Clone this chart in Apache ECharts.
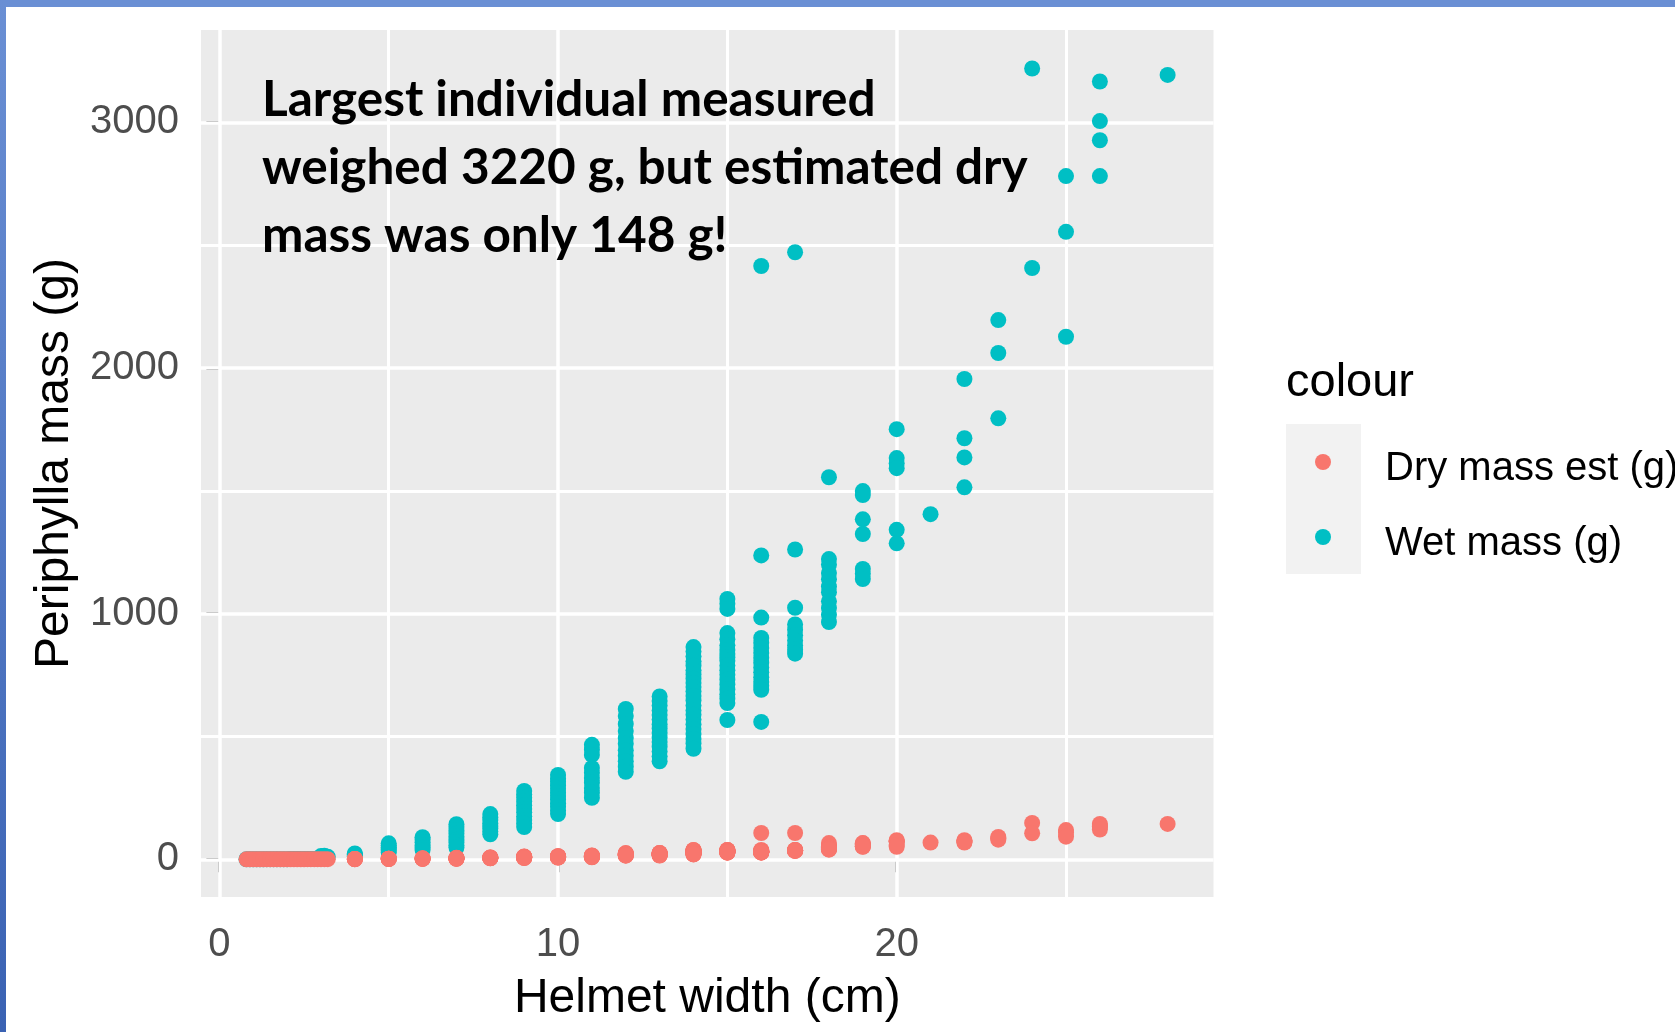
<!DOCTYPE html>
<html>
<head>
<meta charset="utf-8">
<script src="https://cdn.jsdelivr.net/npm/echarts@6/dist/echarts.min.js"></script>
<style>
  html, body { margin: 0; padding: 0; background: #fff; }
  #chart { width: 1675px; height: 1032px; }
</style>
</head>
<body>
<div id="chart"></div>
<script>
// small helmets, measured to 0.1 cm
const smallWidths = [0.8, 0.9, 1.0, 1.1, 1.2, 1.3, 1.4, 1.5, 1.6, 1.7, 1.8, 1.9, 2.0, 2.1, 2.2, 2.3, 2.4, 2.5, 2.6, 2.7, 2.8, 2.9, 3.0, 3.1, 3.2];
const smallWet = [0.1, 0.1, 0.1, 0.2, 0.2, 0.2, 0.3, 0.3, 0.4, 0.4, 0.5, 0.5, 0.6, 0.7, 0.8, 0.9, 1.0, 1.1, 1.2, 1.4, 1.6, 1.8, 13, 14, 10];
const smallDry = [0.01, 0.02, 0.02, 0.03, 0.04, 0.05, 0.06, 0.07, 0.08, 0.1, 0.11, 0.13, 0.15, 0.17, 0.2, 0.22, 0.25, 0.28, 0.31, 0.35, 0.39, 0.43, 0.6, 0.65, 0.45];

// larger helmets, whole cm
const widths = [4, 5, 6, 7, 8, 9, 10, 11, 12, 13, 14, 15, 16, 17, 18, 19, 20, 21, 22, 23, 24, 25, 26, 28];
const wetByWidth = [
  [24, 21, 17, 14, 11],
  [65, 57, 49, 42, 35, 28],
  [90, 80, 69, 58, 47, 38],
  [143, 131, 117, 104, 93, 80, 68, 57, 48],
  [184, 171, 160, 147, 136, 125, 113, 102],
  [278, 264, 250, 235, 220, 205, 191, 175, 160, 146, 131],
  [343, 329, 316, 300, 287, 271, 258, 243, 228, 214, 199, 184],
  [466, 446, 425, 372, 352, 331, 312, 290, 271, 250],
  [612, 583, 551, 522, 494, 470, 444, 421, 399, 377, 356],
  [663, 644, 626, 606, 587, 569, 550, 532, 514, 495, 477, 458, 439, 419, 399],
  [864, 846, 826, 806, 788, 769, 752, 735, 718, 701, 684, 665, 646, 626, 606, 588, 569, 550, 530, 510, 490, 471, 450],
  [1060, 1040, 1019, 921, 896, 871, 852, 836, 821, 808, 789, 770, 751, 731, 711, 691, 672, 654, 636, 567],
  [2415, 1237, 984, 901, 881, 860, 840, 820, 800, 781, 761, 741, 722, 706, 690, 559],
  [2471, 1261, 1024, 956, 934, 912, 891, 871, 853, 837],
  [1555, 1222, 1200, 1165, 1140, 1110, 1087, 1050, 1023, 995, 966],
  [1499, 1483, 1384, 1324, 1182, 1162, 1141],
  [1751, 1633, 1612, 1592, 1341, 1286],
  [1405],
  [1955, 1714, 1636, 1514],
  [2195, 2061, 1795],
  [3219, 2407],
  [2781, 2554, 2127],
  [3166, 3005, 2927, 2781],
  [3193]
];
const dryByWidth = [
  [1.1, 0.9, 0.8, 0.6, 0.5],
  [2.7, 2.4, 2.1, 1.8, 1.5, 1.2],
  [3.8, 3.3, 2.9, 2.4, 2.0, 1.6],
  [5.9, 5.4, 4.8, 4.3, 3.8, 3.3, 2.8, 2.4, 2.0],
  [7.6, 7.1, 6.6, 6.1, 5.6, 5.2, 4.7, 4.2],
  [11.2, 10.7, 10.1, 9.5, 8.9, 8.3, 7.7, 7.1, 6.5, 5.9, 5.3],
  [12.8, 12.3, 11.8, 11.2, 10.7, 10.1, 9.6, 9.1, 8.5, 8.0, 7.4, 6.9],
  [15.6, 14.9, 14.2, 12.5, 11.8, 11.1, 10.5, 9.8, 9.1, 8.4],
  [25.2, 24.0, 22.7, 21.5, 20.3, 19.4, 18.3, 17.4, 16.5, 15.6, 14.8],
  [25.8, 25.1, 24.4, 23.6, 22.9, 22.2, 21.4, 20.7, 20.0, 19.3, 18.6, 17.8, 17.1, 16.3, 15.5],
  [37.8, 37.0, 36.1, 35.3, 34.5, 33.7, 32.9, 32.1, 31.4, 30.6, 29.9, 29.1, 28.2, 27.4, 26.5, 25.7, 24.9, 24.1, 23.2, 22.3, 21.4, 20.6, 19.7],
  [38, 37.5, 37, 35, 34.5, 34, 33.5, 33, 32.5, 32, 31.5, 31, 30.5, 30, 29.5, 29, 28.5, 28, 27.5, 27],
  [107, 38, 35, 33, 33, 32, 32, 31, 31, 30, 30, 29, 29, 28, 28, 27],
  [107, 38, 37.5, 37, 36.5, 36, 35.5, 35, 34.5, 34],
  [66, 52, 51, 50, 49, 47, 46, 44, 43, 41, 39],
  [66, 65, 61, 58, 53, 52, 51],
  [78, 73, 72, 71, 58, 51],
  [68],
  [78, 74, 71, 68],
  [91, 86, 80],
  [148, 106],
  [119, 108, 92],
  [144, 136, 132, 121],
  [144]
];

const xTicks = [0, 10, 20];
const xMinor = [5, 15, 25];
const yTicks = [0, 1000, 2000, 3000];
const yMinor = [500, 1500, 2500];

const seriesNames = ['Dry mass est (g)', 'Wet mass (g)'];
const colours = ['#F8766D', '#00BFC4'];

function toPoints(smallVals, groups) {
  const pts = smallWidths.map((w, i) => [w, smallVals[i]]);
  groups.forEach((vals, i) => vals.forEach(v => pts.push([widths[i], v])));
  return pts;
}
const wetPoints = toPoints(smallWet, wetByWidth);
const dryPoints = toPoints(smallDry, dryByWidth);

const FONT = '"Liberation Sans", Arial, sans-serif';

const chart = echarts.init(document.getElementById('chart'), null, { renderer: 'canvas' });

const gridLines = [
  ...xTicks.map(v => ({ xAxis: v, lineStyle: { width: 3.5 } })),
  ...xMinor.map(v => ({ xAxis: v, lineStyle: { width: 3 } })),
  ...yTicks.map(v => ({ yAxis: v, lineStyle: { width: 3.5 } })),
  ...yMinor.map(v => ({ yAxis: v, lineStyle: { width: 3 } }))
];

// legend drawn by hand, ggplot style: grey key box, dot, label
const legendKeys = [];
seriesNames.forEach((name, i) => {
  const cy = 462 + i * 75;
  legendKeys.push(
    { type: 'circle', shape: { cx: 1323, cy: cy, r: 8 }, style: { fill: colours[i] }, z: 5 },
    { type: 'text', x: 1385, y: cy + 7,
      style: { text: name, font: '40px ' + FONT, fill: '#000', textAlign: 'left', textVerticalAlign: 'middle' }, z: 5 }
  );
});

chart.setOption({
  animation: false,
  backgroundColor: '#ffffff',
  grid: {
    left: 201, top: 30, width: 1012.5, height: 867,
    show: true, backgroundColor: '#EBEBEB', borderWidth: 0
  },
  xAxis: {
    type: 'value', min: -0.543, max: 29.355,
    name: 'Helmet width (cm)', nameLocation: 'middle', nameGap: 78,
    nameTextStyle: { fontFamily: FONT, fontSize: 48, color: '#000' },
    axisLine: { show: false },
    splitLine: { show: false },
    axisTick: { show: true, customValues: xTicks, length: 13, lineStyle: { color: '#333333', width: 3 } },
    axisLabel: { customValues: xTicks, margin: 28, fontFamily: FONT, fontSize: 40, color: '#4D4D4D',
      formatter: v => String(v) }
  },
  yAxis: {
    type: 'value', min: -153.5, max: 3375.7,
    name: 'Periphylla mass (g)', nameLocation: 'middle', nameGap: 110,
    nameTextStyle: { fontFamily: FONT, fontSize: 48, color: '#000' },
    axisLine: { show: false },
    splitLine: { show: false },
    axisTick: { show: true, customValues: yTicks, length: 13, lineStyle: { color: '#333333', width: 3 } },
    axisLabel: { customValues: yTicks, margin: 22, fontFamily: FONT, fontSize: 40, color: '#4D4D4D',
      formatter: v => String(v) }
  },
  series: [
    {
      name: 'grid', type: 'scatter', data: [], silent: true,
      markLine: {
        silent: true, symbol: 'none', z: 1, label: { show: false },
        lineStyle: { color: '#ffffff', type: 'solid' },
        data: gridLines
      }
    },
    {
      name: seriesNames[1], type: 'scatter', data: wetPoints,
      symbol: 'circle', symbolSize: 16, itemStyle: { color: colours[1], opacity: 1 }, z: 3
    },
    {
      name: seriesNames[0], type: 'scatter', data: dryPoints,
      symbol: 'circle', symbolSize: 16, itemStyle: { color: colours[0], opacity: 1 }, z: 4
    }
  ],
  graphic: [
    { type: 'rect', shape: { x: 0, y: 0, width: 1675, height: 7 }, style: { fill: '#6A8FD4' }, z: 10 },
    { type: 'rect', shape: { x: 0, y: 0, width: 6, height: 1032 },
      style: { fill: new echarts.graphic.LinearGradient(0, 0, 0, 1, [
        { offset: 0, color: '#6A8FD4' }, { offset: 1, color: '#3A62B3' }
      ]) }, z: 10 },
    { type: 'rect', shape: { x: 1286, y: 424, width: 75, height: 150 }, style: { fill: '#F2F2F2' }, z: 0 },
    { type: 'text', x: 1286, y: 383,
      style: { text: 'colour', font: '47px ' + FONT, fill: '#000', textAlign: 'left', textVerticalAlign: 'middle' } },
    ...legendKeys,
    { type: 'text', x: 262, y: 66,
      style: {
        text: 'Largest individual measured\nweighed 3220 g, but estimated dry\nmass was only 148 g!',
        font: 'bold 49.5px Lato, "Open Sans", sans-serif', lineHeight: 68, fill: '#000',
        textAlign: 'left', textVerticalAlign: 'top'
      }, z: 20 }
  ]
});
</script>
</body>
</html>
